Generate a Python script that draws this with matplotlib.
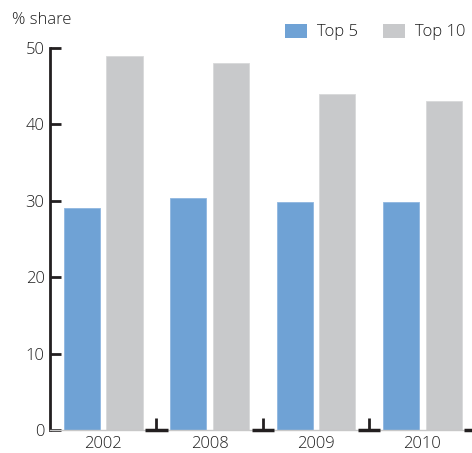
import numpy as np
import matplotlib
matplotlib.use("Agg")
import matplotlib.pyplot as plt
from matplotlib.patches import Patch

years = ["2002", "2008", "2009", "2010"]
top5 = [29, 30.4, 29.9, 29.9]
top10 = [49, 48, 44, 43]

blue = "#6fa2d5"
grey = "#c8c9cb"
dark = "#231f20"
text_col = "#1e1e1e"

plt.rcParams['font.family'] = ['Open Sans', 'DejaVu Sans']
plt.rcParams['font.weight'] = 'light'

fig = plt.figure(figsize=(4.72, 4.53), dpi=100)
ax = fig.add_axes([50 / 472, 23 / 453, 425.5 / 472, 382 / 453])

x = np.arange(len(years))
w = 0.34
ax.bar(x - 0.2, top5, w, color=blue, edgecolor="#8fb6e0", linewidth=0.6, zorder=2)
ax.bar(x + 0.2, top10, w, color=grey, edgecolor="#d8d9da", linewidth=0.6, zorder=2)

ax.set_xlim(-0.5, len(years) - 0.5)
ax.set_ylim(0, 50)
ax.set_yticks(range(0, 51, 10))
ax.set_xticks(x)
ax.set_xticklabels(years)

for s in ["top", "right"]:
    ax.spines[s].set_visible(False)
ax.spines["left"].set_linewidth(2)
ax.spines["left"].set_color(dark)
ax.spines["bottom"].set_linewidth(1)
ax.spines["bottom"].set_color("#c8c8c8")
ax.spines["bottom"].set_zorder(3)

ax.tick_params(axis="y", direction="in", length=8, width=2, color=dark,
               labelsize=12, labelcolor=text_col, pad=4)
ax.tick_params(axis="x", which="major", length=0, labelsize=12,
               labelcolor=text_col, pad=4)

# group separators along the baseline
bounds = x + 0.5
ax.set_xticks(bounds, minor=True)
ax.tick_params(axis="x", which="minor", direction="in", length=9, width=2, color=dark)
ax.hlines([0] * len(bounds), bounds - 0.105, bounds + 0.105, color=dark,
          linewidth=2.5, clip_on=False, zorder=4)

fig.text(12 / 472, 1 - 20 / 453, "% share", fontsize=12, color=text_col,
         va="center", ha="left")

handles = [Patch(facecolor=blue, edgecolor="none", label="Top 5"),
           Patch(facecolor=grey, edgecolor="none", label="Top 10")]
leg = fig.legend(handles=handles, loc="center right",
                 bbox_to_anchor=(465 / 472, 1 - 32 / 453),
                 ncol=2, frameon=False, fontsize=12, handlelength=1.32,
                 handleheight=0.96, columnspacing=1.5, handletextpad=0.6,
                 borderaxespad=0, borderpad=0)
for t in leg.get_texts():
    t.set_color(text_col)

fig.savefig("out.png", dpi=100)
